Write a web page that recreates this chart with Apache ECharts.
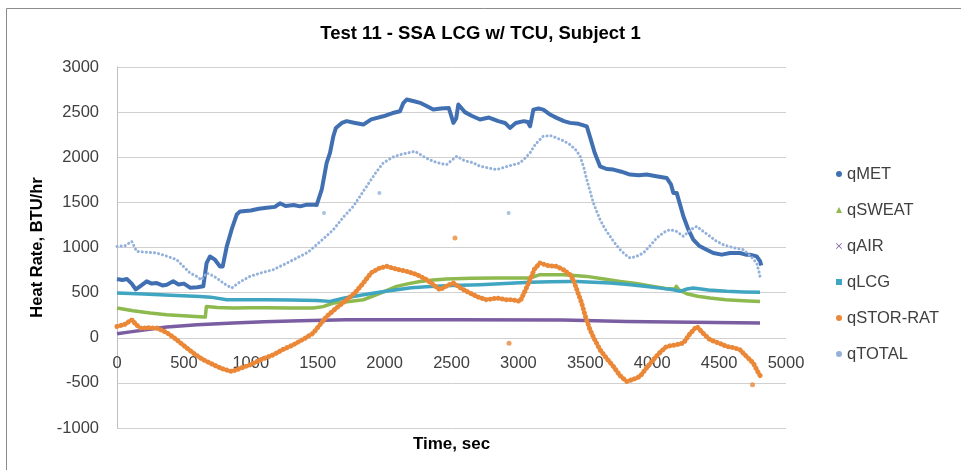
<!DOCTYPE html>
<html>
<head>
<meta charset="utf-8">
<script src="https://cdn.jsdelivr.net/npm/echarts@6/dist/echarts.min.js"></script>
<style>
    html, body { margin: 0; padding: 0; background: #fff; }
    #chart { width: 961px; height: 470px; }
</style>
</head>
<body>
<div id="chart"></div>
<script>
// values: time in sec, heat rate in BTU/hr
const metTime = [0, 40, 75, 110, 140, 172, 222, 260, 297, 340, 372, 420, 460, 500, 546, 600, 645, 670, 695, 732, 770, 790, 820, 857, 895, 920, 1000, 1060, 1120, 1180, 1218, 1260, 1320, 1368, 1420, 1467, 1492, 1530, 1567, 1592, 1617, 1636, 1680, 1717, 1780, 1841, 1900, 1990, 2060, 2115, 2140, 2165, 2220, 2265, 2310, 2364, 2420, 2480, 2500, 2514, 2535, 2551, 2600, 2650, 2713, 2780, 2850, 2900, 2937, 2980, 3040, 3070, 3087, 3112, 3150, 3186, 3240, 3286, 3340, 3386, 3450, 3511, 3540, 3570, 3610, 3660, 3710, 3770, 3834, 3900, 3959, 4030, 4108, 4140, 4158, 4183, 4233, 4270, 4307, 4350, 4407, 4457, 4520, 4582, 4656, 4700, 4731, 4781, 4806, 4815]
const metValue = [650, 640, 650, 600, 535, 570, 625, 600, 606, 580, 588, 625, 590, 600, 555, 560, 570, 830, 900, 865, 790, 790, 1010, 1200, 1365, 1400, 1410, 1430, 1440, 1450, 1490, 1460, 1470, 1456, 1475, 1475, 1470, 1640, 1937, 2048, 2233, 2325, 2380, 2400, 2380, 2362, 2420, 2454, 2490, 2510, 2600, 2640, 2620, 2603, 2570, 2528, 2540, 2545, 2450, 2381, 2430, 2584, 2500, 2460, 2418, 2440, 2400, 2380, 2325, 2380, 2400, 2390, 2343, 2528, 2540, 2528, 2470, 2436, 2400, 2381, 2370, 2343, 2200, 2050, 1900, 1870, 1863, 1840, 1808, 1800, 1808, 1790, 1771, 1700, 1605, 1605, 1346, 1200, 1087, 1020, 976, 939, 921, 939, 939, 921, 921, 902, 850, 800]

const sweatTime = [0, 120, 247, 370, 496, 645, 660, 668, 750, 870, 1000, 1119, 1300, 1467, 1540, 1617, 1720, 1841, 1960, 2090, 2180, 2265, 2364, 2464, 2650, 2838, 3000, 3087, 3161, 3336, 3420, 3511, 3640, 3760, 3880, 4008, 4100, 4170, 4180, 4200, 4258, 4340, 4432, 4550, 4680, 4806]
const sweatValue = [329, 300, 274, 255, 244, 229, 229, 347, 335, 329, 333, 333, 330, 329, 345, 385, 400, 421, 490, 569, 600, 624, 640, 651, 658, 662, 662, 662, 699, 699, 690, 680, 650, 624, 600, 569, 545, 540, 569, 530, 488, 460, 440, 420, 410, 403]

const airTime = [0, 100, 200, 372, 600, 870, 1100, 1368, 1717, 2500, 3336, 3809, 4300, 4806]
const airValue = [44, 65, 85, 118, 145, 163, 178, 188, 200, 200, 198, 181, 172, 163]

const lcgTime = [0, 200, 400, 620, 700, 820, 1000, 1119, 1300, 1492, 1592, 1700, 1841, 1960, 2090, 2200, 2339, 2500, 2713, 2900, 3087, 3240, 3386, 3436, 3560, 3685, 3820, 3959, 4060, 4158, 4208, 4260, 4307, 4420, 4557, 4680, 4806]
const lcgValue = [495, 485, 470, 458, 450, 421, 421, 421, 418, 414, 403, 440, 477, 505, 532, 555, 569, 578, 588, 600, 614, 620, 624, 624, 615, 606, 590, 569, 550, 532, 514, 540, 551, 530, 514, 508, 503]

const storTime = [0, 60, 110, 140, 172, 230, 297, 370, 446, 510, 571, 640, 695, 780, 857, 920, 994, 1080, 1168, 1240, 1318, 1400, 1467, 1520, 1567, 1640, 1717, 1780, 1841, 1900, 1960, 2016, 2090, 2165, 2240, 2315, 2370, 2414, 2470, 2514, 2580, 2638, 2700, 2763, 2840, 2913, 2960, 3012, 3050, 3087, 3120, 3161, 3220, 3286, 3340, 3386, 3410, 3440, 3473, 3500, 3535, 3570, 3610, 3660, 3710, 3760, 3809, 3860, 3909, 3960, 4008, 4060, 4108, 4170, 4233, 4280, 4333, 4380, 4432, 4500, 4557, 4610, 4656, 4700, 4756, 4790, 4810]
const storValue = [125, 150, 200, 150, 108, 110, 108, 60, -22, -100, -170, -240, -281, -340, -374, -340, -300, -240, -189, -130, -78, -10, 52, 150, 236, 330, 421, 500, 606, 720, 770, 791, 760, 735, 700, 643, 580, 532, 580, 606, 540, 495, 450, 421, 440, 421, 420, 403, 520, 643, 760, 828, 800, 791, 750, 699, 643, 520, 384, 240, 89, -20, -133, -230, -318, -420, -485, -460, -429, -330, -244, -160, -96, -80, -59, 40, 125, 50, -22, -60, -96, -110, -133, -200, -281, -380, -429]
const storStray = [[2526, 1106], [2930, -60], [4750, -520]]

const totalTime = [0, 60, 110, 147, 200, 297, 380, 446, 496, 546, 596, 630, 670, 700, 745, 800, 857, 920, 994, 1080, 1168, 1260, 1368, 1430, 1492, 1560, 1617, 1700, 1766, 1866, 1930, 1990, 2060, 2115, 2180, 2227, 2300, 2364, 2420, 2464, 2539, 2600, 2660, 2713, 2780, 2838, 2920, 3012, 3050, 3087, 3130, 3186, 3240, 3286, 3340, 3386, 3430, 3461, 3490, 3511, 3560, 3610, 3650, 3685, 3720, 3760, 3800, 3834, 3880, 3934, 3990, 4034, 4090, 4133, 4180, 4233, 4290, 4333, 4380, 4432, 4480, 4532, 4600, 4681, 4740, 4781, 4800, 4810]
const totalValue = [1012, 1020, 1068, 957, 950, 939, 900, 865, 791, 717, 680, 640, 717, 700, 662, 600, 551, 620, 680, 720, 754, 820, 902, 950, 1031, 1120, 1198, 1350, 1456, 1678, 1820, 1937, 2000, 2029, 2050, 2066, 2000, 1955, 1930, 1919, 2011, 1960, 1940, 1900, 1880, 1863, 1900, 1937, 1990, 2048, 2150, 2233, 2240, 2214, 2180, 2140, 2080, 2011, 1880, 1752, 1494, 1309, 1200, 1124, 1050, 976, 920, 884, 900, 939, 1030, 1106, 1170, 1198, 1180, 1124, 1200, 1234, 1180, 1124, 1070, 1031, 1000, 976, 900, 828, 720, 650]
const totalStray = [[1547, 1383], [1961, 1605], [2927, 1383]]

const xTicks = [0, 5000, 500]
const yTicks = [-1000, 3000, 500]

const chartFont = '"Liberation Sans", Arial, sans-serif'
const textColor = '#404040'

function toPairs(times, values) {
    return times.map((t, i) => [t, values[i]])
}

function solidLine(name, times, values, color, width) {
    return {
        name: name,
        type: 'line',
        data: toPairs(times, values),
        showSymbol: false,
        color: color,
        lineStyle: { color: color, width: width, join: 'round' },
        emphasis: { disabled: true },
    }
}

// dotted series: dots along the curve, like the excel markers
function dotLine(name, times, values, color, width, gap) {
    return {
        name: name,
        type: 'line',
        data: toPairs(times, values),
        showSymbol: false,
        color: color,
        lineStyle: { color: color, width: width, type: [0.1, gap], cap: 'round' },
        emphasis: { disabled: true },
    }
}

function strayPoints(name, points, color, size) {
    return {
        name: name,
        type: 'scatter',
        data: points,
        symbolSize: size,
        color: color,
        itemStyle: { color: color },
        emphasis: { disabled: true },
    }
}

const colors = {
    met: '#4170b2',
    sweat: '#8db94f',
    air: '#7a5ea1',
    lcg: '#3fa5c1',
    stor: '#eb8838',
    total: '#93b1da',
}

const chart = echarts.init(document.getElementById('chart'))

const option = {
    animation: false,
    textStyle: { fontFamily: chartFont },
    title: {
        text: 'Test 11 - SSA LCG w/ TCU, Subject 1',
        left: 'center',
        top: 19,
        textStyle: { fontSize: 18.5, fontWeight: 'bold', color: '#000', fontFamily: chartFont },
    },
    grid: { left: 117, right: 175, top: 67, bottom: 42, outerBoundsMode: 'none', containLabel: false },
    legend: {
        orient: 'vertical',
        left: 831,
        top: 160,
        itemGap: 18,
        itemWidth: 6,
        itemHeight: 6,
        textStyle: { fontSize: 16.5, color: textColor, fontFamily: chartFont, lineHeight: 18 },
        data: [
            { name: 'qMET', icon: 'circle' },
            { name: 'qSWEAT', icon: 'triangle' },
            { name: 'qAIR', icon: 'path://M0,1L1,0L5,4L9,0L10,1L6,5L10,9L9,10L5,6L1,10L0,9L4,5Z' },
            { name: 'qLCG', icon: 'rect' },
            { name: 'qSTOR-RAT', icon: 'circle' },
            { name: 'qTOTAL', icon: 'circle' },
        ],
    },
    xAxis: {
        type: 'value',
        min: xTicks[0],
        max: xTicks[1],
        interval: xTicks[2],
        name: 'Time, sec',
        nameLocation: 'middle',
        nameGap: 8,
        nameTextStyle: { fontSize: 17, fontWeight: 'bold', color: '#000' },
        axisLine: { show: false },
        axisTick: { show: false },
        // labels sit next to the zero line, as in the excel chart
        axisLabel: { fontSize: 16.5, color: textColor, margin: -73, formatter: v => String(v) },
        splitLine: { show: false },
    },
    yAxis: {
        type: 'value',
        min: yTicks[0],
        max: yTicks[1],
        interval: yTicks[2],
        name: 'Heat Rate, BTU/hr',
        nameLocation: 'middle',
        nameGap: 67,
        nameTextStyle: { fontSize: 16.5, fontWeight: 'bold', color: '#000' },
        axisLine: { show: true, onZero: false, lineStyle: { color: '#bfbfbf' } },
        axisTick: { show: false },
        axisLabel: { fontSize: 16.5, color: textColor, margin: 18, formatter: v => String(v) },
        splitLine: { show: true, lineStyle: { color: '#d0d0d0', width: 1 } },
    },
    graphic: [
        { type: 'line', shape: { x1: 6.5, y1: 8.5, x2: 961, y2: 8.5 }, style: { stroke: '#8c8c8c', lineWidth: 1 } },
        { type: 'line', shape: { x1: 6.5, y1: 8.5, x2: 6.5, y2: 470 }, style: { stroke: '#8c8c8c', lineWidth: 1 } },
    ],
    series: [
        solidLine('qMET', metTime, metValue, colors.met, 4),
        solidLine('qSWEAT', sweatTime, sweatValue, colors.sweat, 3.5),
        solidLine('qAIR', airTime, airValue, colors.air, 3.5),
        solidLine('qLCG', lcgTime, lcgValue, colors.lcg, 3.5),
        dotLine('qSTOR-RAT', storTime, storValue, colors.stor, 5, 4),
        strayPoints('qSTOR-RAT', storStray, colors.stor, 5),
        dotLine('qTOTAL', totalTime, totalValue, colors.total, 3, 4),
        strayPoints('qTOTAL', totalStray, colors.total, 4),
    ],
}

chart.setOption(option)
</script>
</body>
</html>
